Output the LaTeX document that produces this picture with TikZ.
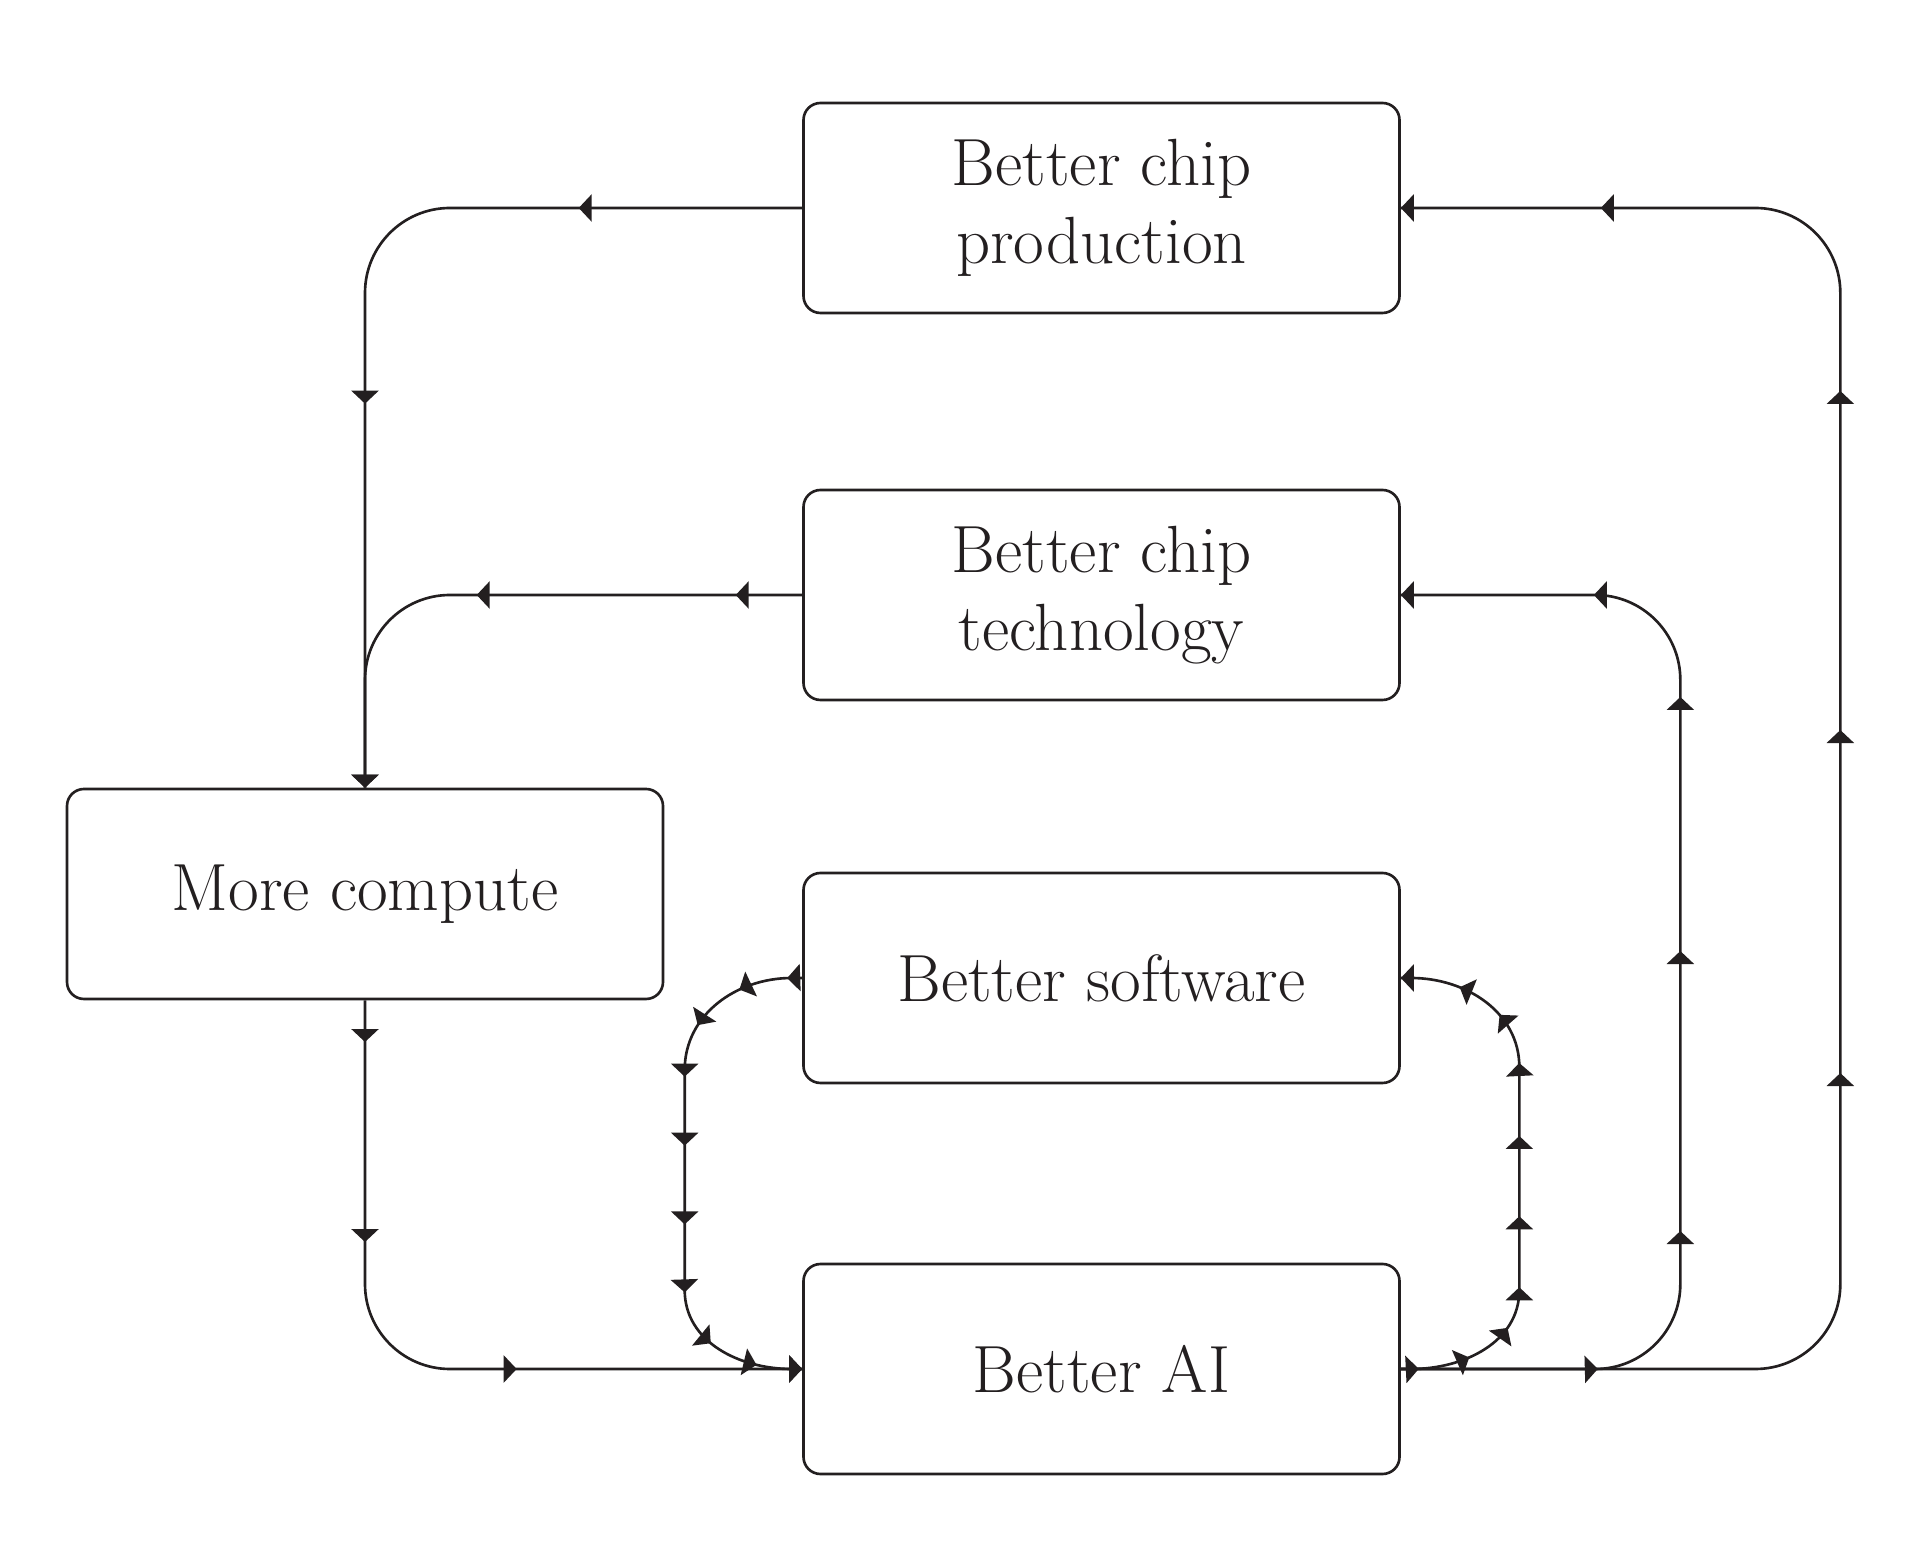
\documentclass[tikz,border=0pt]{standalone}
\usepackage{tikz}
\usepackage{color}
\usetikzlibrary{arrows.meta,decorations.markings}

\definecolor{ink}{RGB}{35,31,32}

\tikzset{
  box/.style={draw=ink, line width=0.75pt, rounded corners=0.17cm, minimum width=5.96cm, minimum height=2.1cm, align=center, text=ink, font=\fontsize{19}{22}\selectfont},
  link/.style={draw=ink, line width=0.75pt, rounded corners=0.85cm},
  softlink/.style={draw=ink, line width=0.75pt},
  arrowat/.style={postaction={decorate, decoration={markings, mark=at position #1 with {\arrow{Triangle[length=0.13cm,width=0.27cm]}}}}}
}

\begin{document}
\begin{tikzpicture}[color=ink]
\useasboundingbox (0,0) rectangle (19.2,15.5);

% Drawing boxes
\node[box] (prod) at (11.015,13.42) {Better chip\\production};
\node[box] (tech) at (11.015,9.55) {Better chip\\technology};
\node[box] (soft) at (11.015,5.72) {Better software};
\node[box] (ai) at (11.015,1.81) {Better AI};
\node[box] (comp) at (3.65,6.56) {More compute};

% Drawing links into compute
\draw[link, arrowat=2.235cm, arrowat=-3.84cm, arrowat=1] (prod.west) -| (comp.north);
\draw[link, arrowat=0.665cm, arrowat=3.255cm, arrowat=1] (tech.west) -| (comp.north);

% Drawing link from compute to AI
\draw[link, arrowat=0.417cm, arrowat=2.417cm, arrowat=-2.855cm, arrowat=1] (comp.south) |- (ai.west);

% Drawing software loop (left side, going down)
\draw[softlink, arrowat=0.15cm, arrowat=0.645cm, arrowat=1.2cm, arrowat=1.74cm, arrowat=2.43cm, arrowat=-2.24cm, arrowat=-1.56cm, arrowat=-0.97cm, arrowat=-0.46cm, arrowat=1]
  (soft.west) -- ++(-0.105,0) to[out=180,in=90] ([xshift=-1.175cm,yshift=-0.92cm]soft.west)
  -- ([xshift=-1.175cm,yshift=0.79cm]ai.west) to[out=-90,in=180] ([xshift=-0.105cm]ai.west) -- (ai.west);

% Drawing software loop (right side, going up)
\draw[softlink, arrowat=0.18cm, arrowat=0.7cm, arrowat=1.19cm, arrowat=1.62cm, arrowat=2.33cm, arrowat=-2.35cm, arrowat=-1.62cm, arrowat=-1.09cm, arrowat=-0.6cm, arrowat=1]
  (ai.east) -- ++(0.105,0) to[out=0,in=-90] ([xshift=1.185cm,yshift=0.79cm]ai.east)
  -- ([xshift=1.185cm,yshift=-0.89cm]soft.east) to[out=90,in=0] ([xshift=0.105cm]soft.east) -- (soft.east);

% Drawing links from AI back to the chips
\draw[link, arrowat=1.97cm, arrowat=3.81cm, arrowat=6.61cm, arrowat=-3.45cm, arrowat=-1.93cm, arrowat=1] (ai.east) -| ([xshift=2.795cm]tech.east) -- (tech.east);
\draw[link, arrowat=6.99cm, arrowat=10.42cm, arrowat=-5.86cm, arrowat=-2.0cm, arrowat=1] (ai.east) -| ([xshift=4.395cm]prod.east) -- (prod.east);
\end{tikzpicture}
\end{document}
